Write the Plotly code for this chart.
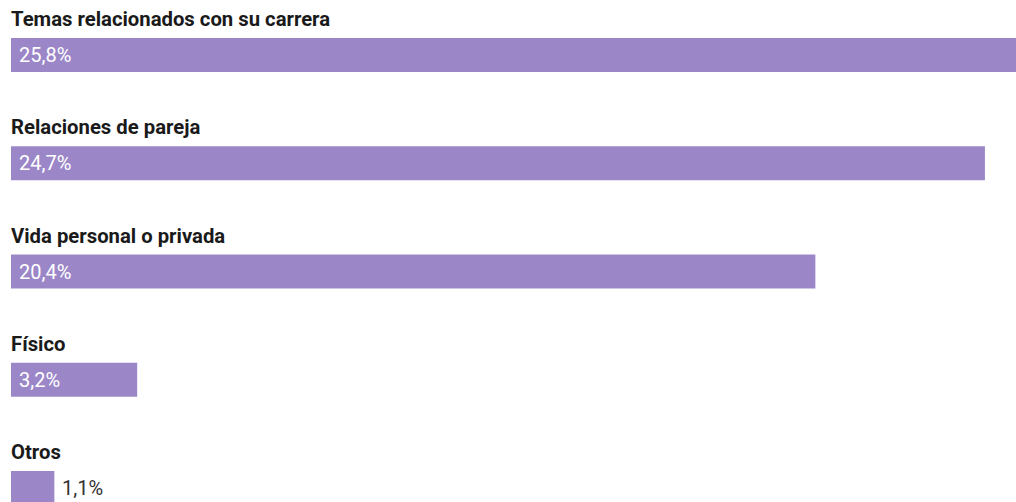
import plotly.graph_objects as go

categories = ["Temas relacionados con su carrera", "Relaciones de pareja",
              "Vida personal o privada", "Físico", "Otros"]
values = [25.8, 24.7, 20.4, 3.2, 1.1]
value_labels = ["25,8%", "24,7%", "20,4%", "3,2%", "1,1%"]

bar_color = "#9b87c7"
ypos = list(range(len(categories)))

fig = go.Figure(go.Bar(
    x=values, y=ypos, orientation="h",
    marker=dict(color=bar_color, line=dict(width=0)),
    width=0.314, hoverinfo="skip",
))

annotations = []
for i, (cat, v, lab) in enumerate(zip(categories, values, value_labels)):
    annotations.append(dict(
        x=0, y=i, xref="x", yref="y", text=cat, showarrow=False,
        xanchor="left", yanchor="middle", yshift=36, xshift=-2,
        font=dict(family="Roboto", size=20.3, color="#1a1a1a", weight=700),
    ))
    inside = v > 2
    annotations.append(dict(
        x=0 if inside else v, y=i, xref="x", yref="y", text=lab, showarrow=False,
        xanchor="left", yanchor="middle", xshift=6,
        font=dict(family="Roboto", size=20, color="#ffffff" if inside else "#333333",
                  weight=400),
    ))

fig.update_layout(
    width=1016, height=502,
    margin=dict(l=11, r=0, t=0, b=0),
    paper_bgcolor="white", plot_bgcolor="white",
    showlegend=False,
    xaxis=dict(range=[0, 1005 / 39.43], visible=False, fixedrange=True),
    yaxis=dict(range=[(502 - 55) / 108.25, -55 / 108.25], visible=False, fixedrange=True),
    annotations=annotations,
    font=dict(family="Roboto"),
)
fig.write_html("out.html", config={"displayModeBar": False})
